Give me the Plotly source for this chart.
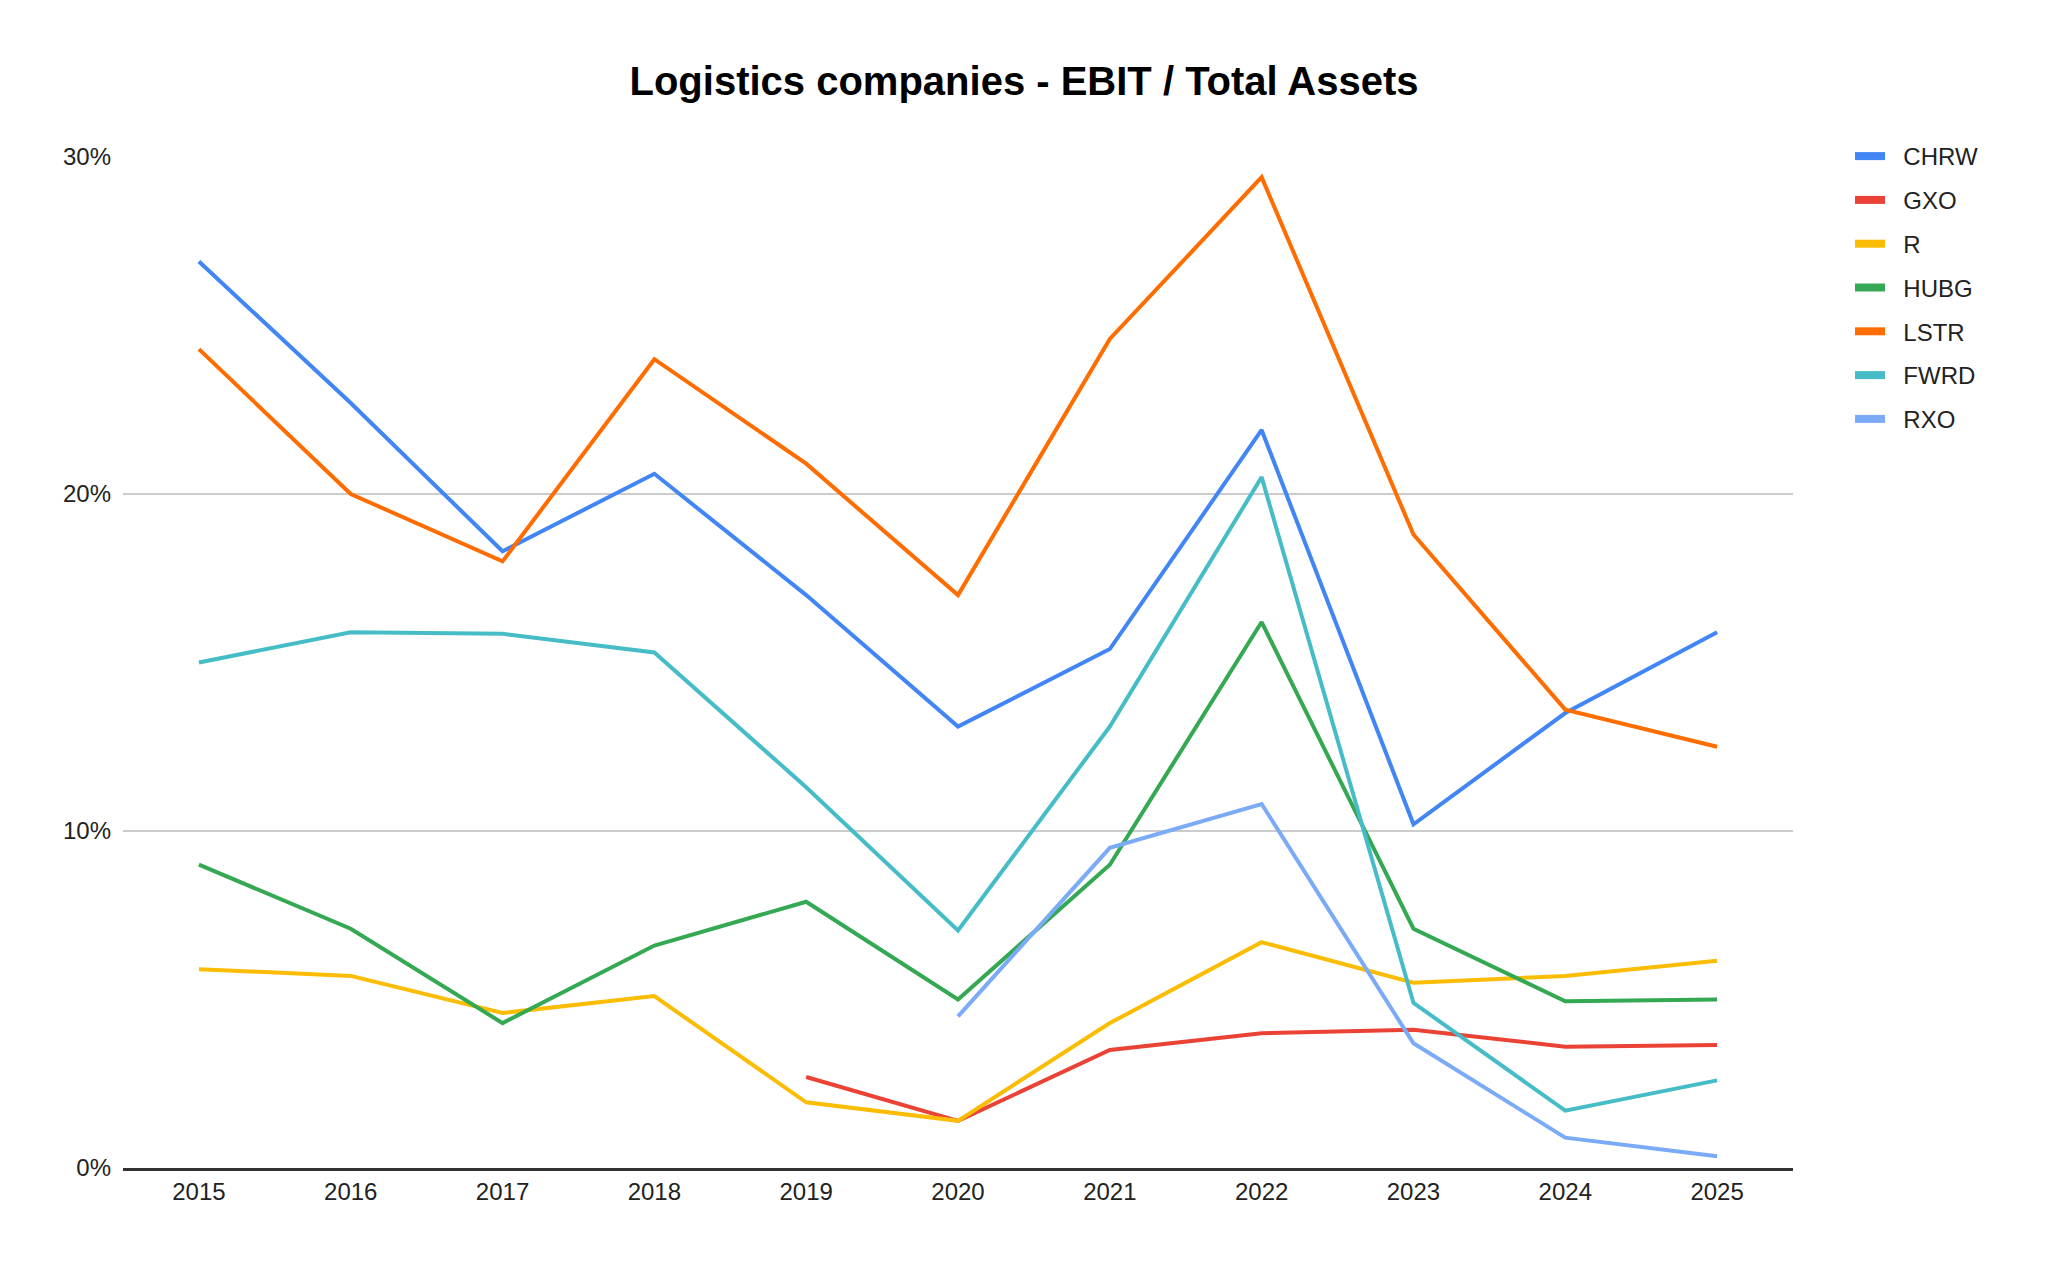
import plotly.graph_objects as go

years = ["2015", "2016", "2017", "2018", "2019", "2020", "2021", "2022", "2023", "2024", "2025"]

chrw = [26.9, 22.7, 18.3, 20.6, 17.0, 13.1, 15.4, 21.9, 10.2, 13.5, 15.9]
gxo = [None, None, None, None, 2.7, 1.4, 3.5, 4.0, 4.1, 3.6, 3.65]
r_vals = [5.9, 5.7, 4.6, 5.1, 1.95, 1.4, 4.3, 6.7, 5.5, 5.7, 6.15]
hubg = [9.0, 7.1, 4.3, 6.6, 7.9, 5.0, 9.0, 16.2, 7.1, 4.95, 5.0]
lstr = [24.3, 20.0, 18.0, 24.0, 20.9, 17.0, 24.6, 29.4, 18.8, 13.6, 12.5]
fwrd = [15.0, 15.9, 15.85, 15.3, 11.3, 7.05, 13.1, 20.5, 4.9, 1.7, 2.6]
rxo = [None, None, None, None, None, 4.5, 9.5, 10.8, 3.7, 0.9, 0.35]

series_names = ["CHRW", "GXO", "R", "HUBG", "LSTR", "FWRD", "RXO"]
series_values = [chrw, gxo, r_vals, hubg, lstr, fwrd, rxo]
colors = ["#4285F4", "#EA4335", "#FBBC04", "#34A853", "#FF6D01", "#46BDC6", "#7BAAF7"]

NBSP = "\u00a0"

fig = go.Figure()
for name, vals, col in zip(series_names, series_values, colors):
    fig.add_trace(go.Scatter(
        x=years,
        y=[v / 100 if v is not None else None for v in vals],
        mode="lines",
        name=name,
        legendgroup=name,
        line=dict(color=col, width=4),
        connectgaps=False,
        showlegend=False,
    ))
    # legend-only swatch trace (thick bar like the reference legend)
    fig.add_trace(go.Scatter(
        x=[None], y=[None],
        mode="lines",
        name=NBSP * 2 + name,
        legendgroup=name,
        line=dict(color=col, width=8),
        showlegend=True,
        hoverinfo="skip",
    ))

fig.update_layout(
    width=2048,
    height=1268,
    paper_bgcolor="white",
    plot_bgcolor="white",
    margin=dict(l=115, r=263, t=149, b=108),
    font=dict(family="Arial, Liberation Sans, sans-serif", size=24, color="#222222"),
    title=dict(
        text="<b>Logistics companies - EBIT / Total Assets</b>",
        font=dict(family="Arial, Liberation Sans, sans-serif", size=40, color="#000000"),
        xref="container", x=1016 / 2048, xanchor="center",
        yref="container", y=1 - 73 / 1268, yanchor="middle",
    ),
    legend=dict(
        xref="container", x=1842 / 2048, xanchor="left",
        yref="container", y=1 - 126 / 1268, yanchor="top",
        font=dict(size=24, color="#222222"),
        tracegroupgap=9.6,
        bgcolor="rgba(0,0,0,0)",
        borderwidth=0,
    ),
    showlegend=True,
)

fig.update_xaxes(
    type="category",
    range=[-0.5, 10.5],
    showgrid=False,
    showline=True,
    linecolor="#333333",
    linewidth=2.5,
    ticks="",
    ticklabelstandoff=0,
    tickfont=dict(size=24, color="#222222"),
    zeroline=False,
)

fig.update_yaxes(
    range=[0, 0.30],
    tickvals=[0, 0.1, 0.2, 0.3],
    tickformat=".0%",
    showgrid=True,
    gridcolor="#cccccc",
    gridwidth=2,
    showline=False,
    zeroline=False,
    ticks="",
    ticklabelstandoff=11,
    tickfont=dict(size=24, color="#222222"),
)

fig.write_html("out.html")
